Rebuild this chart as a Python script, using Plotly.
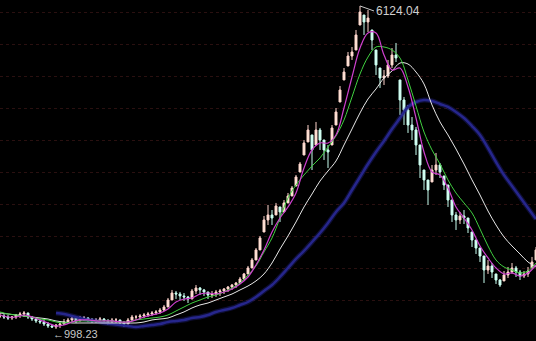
import plotly.graph_objects as go

# ---- price data (weekly samples, index = week) ----
close = [1204,1188,1172,1188,1220,1236,1252,1188,1156,1125,1109,1077,1045,1030,1061,1077,1109,1141,1172,1125,
         1172,1172,1141,1125,1141,1156,1125,1109,1141,1141,1093,1077,1141,1188,1188,1204,1220,1236,1252,1268,
         1299,1347,1458,1569,1553,1522,1506,1474,1601,1648,1617,1585,1537,1553,1585,1601,1633,1664,1696,1728,
         1791,1871,1966,2093,2252,2442,2728,2807,2759,2950,2855,2998,3109,3235,3410,3616,3950,4156,3839,4156,
         3997,3839,3807,4188,4442,4791,5076,5330,5394,5664,6029,5870,5933,5584,5188,4981,5013,5188,5346,5299,
         4632,4474,4235,4156,3918,3601,3363,3204,3521,3601,3489,3283,3045,2807,2728,2791,2759,2601,2410,2283,
         2156,1934,1998,1902,1775,1696,1855,1902,1966,1902,1839,1871,1918,2061,2252]
high = [1252,1236,1220,1204,1236,1268,1283,1252,1204,1172,1156,1141,1109,1061,1077,1109,1156,1172,1204,1172,
        1204,1204,1188,1172,1172,1188,1172,1156,1172,1172,1141,1125,1172,1220,1220,1236,1252,1268,1283,1299,
        1331,1379,1490,1617,1601,1585,1569,1522,1633,1696,1664,1633,1585,1601,1617,1633,1648,1680,1712,1744,
        1823,1887,1998,2124,2283,2474,2791,2966,2886,2998,2934,3045,3156,3267,3442,3648,3997,4235,4077,4283,
        4188,3997,3918,4235,4505,4854,5140,5394,5473,5743,6124.04,5981,6060,5743,5426,5140,5108,5267,5457,5537,
        4950,4680,4553,4362,4204,3918,3521,3362,3600,3791,3632,3426,3283,3045,2855,2855,2886,2759,2537,2410,
        2283,2156,2093,2045,1871,1791,1918,1982,2045,1998,1934,1918,1982,2141,2299]
low = [1172,1156,1141,1141,1156,1172,1188,1156,1125,1093,1077,1045,1014,1014,998.23,1014,1061,1077,1109,1093,
       1125,1125,1109,1093,1093,1109,1077,1061,1077,1093,1045,1030,1077,1125,1141,1156,1172,1188,1204,1220,
       1236,1283,1347,1458,1474,1458,1442,1410,1474,1553,1537,1522,1474,1490,1506,1522,1553,1585,1617,1648,
       1712,1775,1871,1966,2093,2252,2537,2648,2648,2807,2696,2855,2998,3109,3267,3489,3759,3966,3521,3918,
       3839,3680,3553,3918,4235,4600,4950,5172,5267,5426,5822,5664,5711,5426,5029,4823,4870,4981,5140,5235,
       4394,4235,4109,3997,3759,3394,3204,2966,3331,3442,3394,3204,2934,2696,2569,2664,2664,2521,2299,2188,
       2061,1728,1871,1807,1712,1664.93,1760,1807,1871,1823,1775,1807,1823,1966,2093]

# ---- moving averages (every 2 weeks) ----
ma_short = [1220,1188,1188,1220,1188,1141,1093,1045,1061,1109,1141,1141,1125,1125,1125,1109,1109,1141,1188,1220,
            1252,1315,1426,1474,1490,1553,1569,1553,1585,1632,1712,1823,2014,2252,2537,2759,2934,3156,3553,3839,
            3950,3950,4077,4505,4997,5457,5695,5695,5346,5108,5140,4838,4346,3807,3489,3442,3235,2934,2759,2569,
            2315,2125,1966,1871,1887,1839,1887,2014]
ma_mid = [1268,1236,1220,1204,1188,1156,1141,1109,1093,1109,1125,1125,1125,1125,1125,1109,1109,1141,1156,1172,
          1188,1220,1283,1347,1410,1458,1506,1537,1585,1648,1728,1855,1998,2220,2442,2759,3077,3283,3442,3585,
          3712,3886,4061,4315,4680,5045,5314,5473,5473,5426,5298,4950,4537,4124,3839,3616,3363,3156,2998,2839,
          2585,2315,2093,1982,1934,1887,1918,2045]
ma_long = [1252,1236,1220,1204,1188,1172,1156,1125,1109,1093,1093,1093,1093,1093,1093,1093,1093,1093,1109,1141,
           1156,1172,1220,1268,1331,1379,1410,1458,1506,1553,1617,1680,1760,1871,2045,2267,2474,2696,2934,3140,
           3346,3505,3664,3918,4172,4426,4648,4807,4981,5092,5219,5203,5076,4886,4553,4283,4077,3854,3616,3363,
           3124,2870,2648,2458,2315,2188,2061,1982]
ma_year = [1252,1236,1204,1172,1141,1125,1093,1077,1061,1045,1030,1045,1061,1077,1109,1125,1141,1172,1188,1220,
           1268,1299,1331,1379,1426,1506,1601,1696,1823,1966,2109,2236,2378,2521,2680,2855,2998,3204,3410,3616,
           3807,3981,4172,4346,4521,4600,4632,4616,4569,4521,4442,4346,4219,4077,3870,3648,3442,3267,3093,2918,
           2743]
ma_weeks = list(range(0, 2 * len(ma_short), 2))
ma_year_weeks = list(range(14, 14 + 2 * len(ma_year), 2))

weeks = list(range(len(close)))
opens = []
prev = close[0]
for c, h, l in zip(close, high, low):
    opens.append(min(max(prev, l), h))
    prev = c

peak_i = max(range(len(high)), key=lambda i: high[i])
low_i = min(range(len(low)), key=lambda i: low[i])

fig = go.Figure()
# soft glow + core for the long-term average
fig.add_trace(go.Scatter(x=ma_year_weeks, y=ma_year, mode="lines", line=dict(color="rgba(40,40,150,0.35)", width=5, shape="spline"), hoverinfo="skip"))
fig.add_trace(go.Scatter(x=ma_year_weeks, y=ma_year, mode="lines", line=dict(color="#26268c", width=2.5, shape="spline"), hoverinfo="skip"))
fig.add_trace(go.Candlestick(x=weeks, open=opens, high=high, low=low, close=close,
                             increasing=dict(line=dict(color="#ffd4cc", width=1), fillcolor="#fff0e0"),
                             decreasing=dict(line=dict(color="#c8fff0", width=1), fillcolor="#e0fff6"),
                             whiskerwidth=0))
fig.add_trace(go.Scatter(x=ma_weeks, y=ma_long, mode="lines", line=dict(color="#e8e8e8", width=1, shape="spline")))
fig.add_trace(go.Scatter(x=ma_weeks, y=ma_mid, mode="lines", line=dict(color="#40d040", width=1, shape="spline")))
fig.add_trace(go.Scatter(x=ma_weeks, y=ma_short, mode="lines", line=dict(color="#d040d0", width=1.2, shape="spline")))

# pixel mapping: y-range chosen so the extremes sit where they are in the picture
y_top, y_bot = 6219, 807
px = (y_top - y_bot) / 341.0
grid = [y_top - px * (12 + 32 * k) for k in range(10)]

fig.add_annotation(x=peak_i, y=high[peak_i], text="6124.04", showarrow=True, arrowhead=0, arrowwidth=1,
                   arrowcolor="#c8c8c8", ax=14, ay=5, xanchor="left", yanchor="middle", standoff=0,
                   font=dict(family="Liberation Sans, Arial", size=12, color="#d0d0d0"))
fig.add_annotation(x=low_i, y=low[low_i], text="\u2190998.23", showarrow=False, xanchor="left", yanchor="middle",
                   xshift=-5, yshift=-5, font=dict(family="Liberation Sans, Arial", size=11, color="#c8c8c8"))

fig.update_layout(width=536, height=341, margin=dict(l=0, r=0, t=0, b=0),
                  paper_bgcolor="#000000", plot_bgcolor="#000000", showlegend=False,
                  xaxis=dict(range=[0, len(close) - 1], visible=False, rangeslider=dict(visible=False)),
                  yaxis=dict(range=[y_bot, y_top], tickvals=grid, showticklabels=False, showgrid=True,
                             gridcolor="#2a1010", griddash="dot", gridwidth=1, zeroline=False, showline=False))
fig.write_html("out.html")
